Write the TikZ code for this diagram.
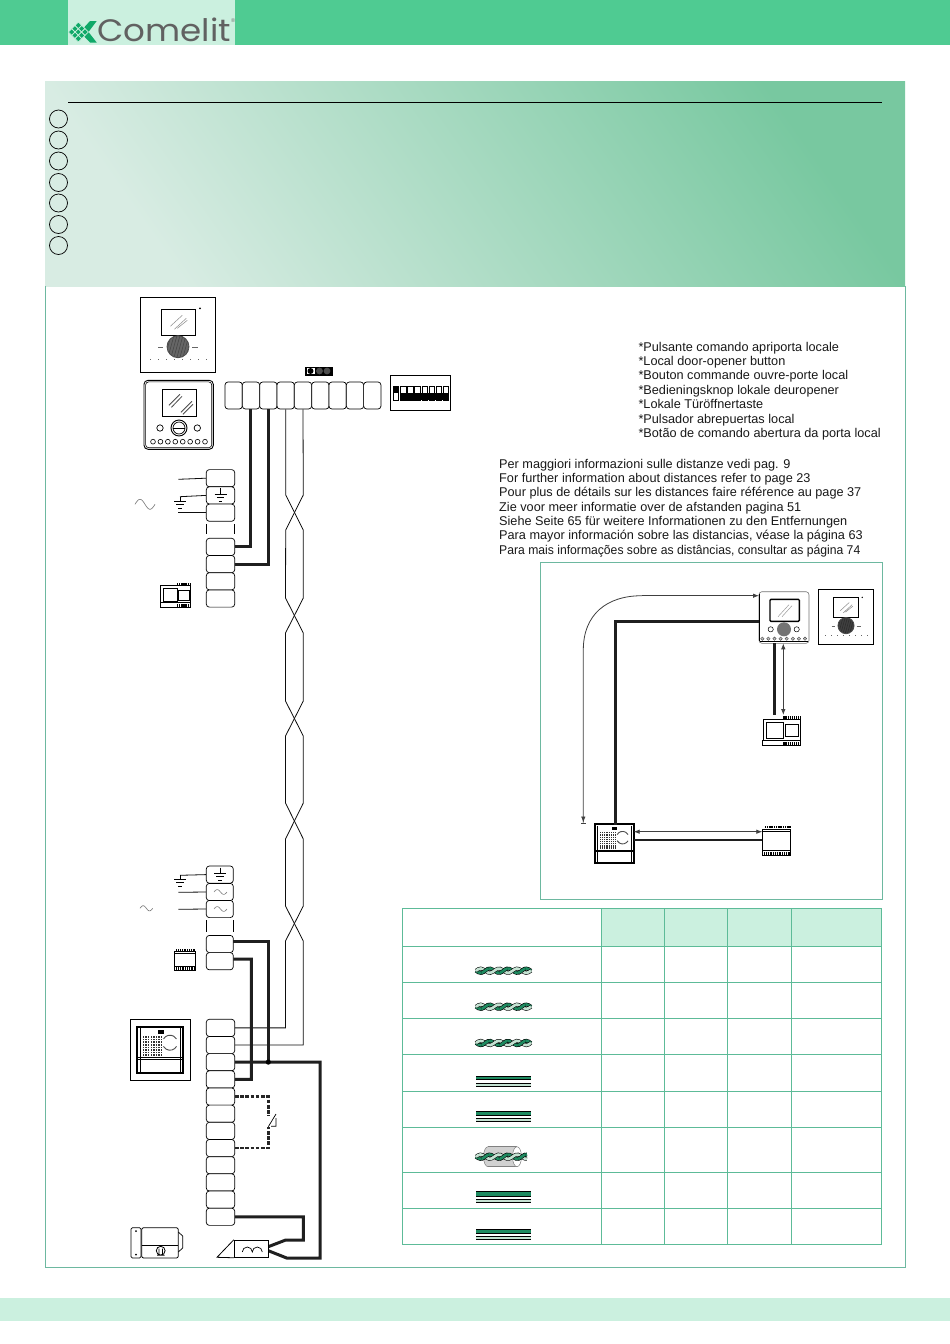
\documentclass[tikz,border=0pt]{standalone}
\usepackage{fontspec}
\setmainfont{Liberation Sans}
\newfontfamily\logofont{Poppins}
\usetikzlibrary{arrows.meta,calc}
\definecolor{hdr}{HTML}{4FCB92}
\definecolor{pale}{HTML}{CBF0DF}
\definecolor{frm}{HTML}{6DB8A0}
\definecolor{grd}{HTML}{5DBB98}
\definecolor{logog}{HTML}{0FA968}
\definecolor{cabd}{HTML}{1E8A60}
\definecolor{cabl}{HTML}{C4E2D2}
\definecolor{gradl}{HTML}{D8ECE3}
\definecolor{gradr}{HTML}{78C8A0}
\tikzset{
 term/.style={draw=black,line width=.7pt,fill=white,rounded corners=3pt,inner sep=0pt,minimum width=#1,minimum height=17.2pt},
 term/.default=28.4pt,
 tt/.style={term=17.33pt,minimum height=27pt},
 heavy/.style={line width=3pt,draw=black!88,line join=miter},
 heavydash/.style={line width=2.6pt,draw=black!85,dash pattern=on 3.6pt off 1.6pt},
 thin wire/.style={line width=.8pt,draw=black!95},
 ar/.style={line width=.8pt,draw=black!75},
 txt/.style={anchor=base west,inner sep=0pt,font=\fontsize{12.7}{14}\selectfont,text=black!90},
 dev/.style={draw=black,line width=.9pt,fill=white,inner sep=0pt},
 circ/.style={draw=black,line width=.7pt},
}
\newcommand{\wave}[5]{\draw[#5,line width=.6pt] plot[domain=0:360,samples=25] ({#1+#3*\x/360},{#2-#4*sin(\x)});}
\newcommand{\gnd}[3]{\draw[line width=.7pt] (#1-#3,#2)--(#1+#3,#2) (#1-#3*.62,#2+3.5)--(#1+#3*.62,#2+3.5) (#1-#3*.3,#2+7)--(#1+#3*.3,#2+7);}
% white monitor
\newcommand{\monW}[4]{\begin{scope}[shift={(#1,#2)},scale=#3]
 \draw[line width=.9pt,fill=white] (0,0) rectangle (75.4,75.4);
 \draw[line width=.9pt] (21,11.7) rectangle (55,38);
 \draw[black!45,line width=.5pt] (30,29)--(42,18) (34,32)--(46,21) (37,31)--(47,23);
 \begin{scope}\clip (37.7,49.4) circle[radius=11]; \fill[#4] (37.7,49.4) circle[radius=11];
 \foreach \k in {-10,-7,...,11}{\draw[black,opacity=.3,line width=.6pt] (37.7+\k-3,60)--(37.7+\k+3,38);}\end{scope}
 \draw[black!70,line width=.8pt] (37.7,49.4) circle[radius=11];
 \fill (59.7,11) circle[radius=1];
 \draw[black!60,line width=.5pt] (18,50)--(23,50) (52,50)--(58,50);
 \foreach \k in {0,...,7}{\fill[black!60] (9.7+\k*8,61.5) rectangle ++(1.3,1.3);}
\end{scope}}
% framed monitor
\newcommand{\monB}[2]{\begin{scope}[shift={(#1,#2)}]
 \draw[line width=.9pt,rounded corners=4pt,fill=white] (0,0) rectangle (69.3,69);
 \draw[line width=.6pt,rounded corners=3pt] (1.6,1.6) rectangle (67.7,67.4);
 \draw[line width=.9pt] (18,9) rectangle (52,35.7);
 \draw[black!70,line width=.8pt] (25,25)--(36,14) (27.5,27)--(38,16) (37,32)--(48,21) (39,34)--(49,24);
 \draw[line width=.9pt] (35,47.7) circle[radius=8]; \draw[line width=.7pt] (35,47.7) circle[radius=6];
 \draw[line width=1pt] (29,47.7)--(41,47.7);
 \draw[line width=.7pt] (16,47.7) circle[radius=3.2] (53.3,47.7) circle[radius=3.2];
 \foreach \k in {0,...,7}{\draw[line width=.6pt] (9+\k*7.43,61.4) circle[radius=2.4];}
\end{scope}}
% din power unit
\newcommand{\unitA}[4]{\begin{scope}[shift={(#1,#2)},xscale=#3,yscale=#4]
 \draw[line width=.8pt,fill=white] (.5,3.5) rectangle (30.7,20.5);
 \draw[line width=.6pt] (3.3,6) rectangle (17.3,19.3);
 \draw[line width=.9pt] (18.3,7.7) rectangle (29,17.7);
 \draw[line width=.7pt] (0,20.5) rectangle (30.7,25);
 \draw[line width=3pt,dash pattern=on 1.3pt off .8pt] (17,1.7)--(30.7,1.7) (17,23)--(30.7,23);
\end{scope}}
\newcommand{\unitC}[4]{\begin{scope}[shift={(#1,#2)},xscale=#3,yscale=#4]
 \draw[line width=.8pt,fill=white] (0,3.5) rectangle (20.7,21.7);
 \draw[line width=.7pt] (0,18) -- (20.7,18);
 \draw[line width=2.4pt,dash pattern=on 1.1pt off .7pt] (2,2)--(20.7,2) (0,20)--(20.7,20);
 \draw[line width=1pt] (0,5)--(20.7,5);
\end{scope}}
% entry panel
\newcommand{\panel}[3]{\begin{scope}[shift={(#1,#2)},scale=#3]
 \draw[line width=2pt,fill=white] (0,0) rectangle (46,46.6);
 \draw[line width=.6pt] (2.7,1.5)--(2.7,45.5) (43,1.5)--(43,45.5);
 \draw[line width=.6pt] (1,30.6)--(45,30.6) (1,32.2)--(45,32.2);
 \fill (20.4,3) rectangle ++(6,4);
 \foreach \a in {0,...,7}\foreach \b in {0,...,7}{\fill[black!80] (5.4+\a*2.6,9.5+\b*2.6) rectangle ++(1.5,1.5);}
 \draw[black!70,line width=.9pt] (32.7,16) ++(30:7.5) arc[start angle=30,end angle=150,radius=7.5];
 \draw[black!70,line width=.9pt] (32.7,16) ++(210:7.5) arc[start angle=210,end angle=330,radius=7.5];
\end{scope}}
\newcommand{\strandA}[4]{\draw[#4] plot[domain=#1:#2,samples=24] (\x,{#3+2.2*sin((\x-476)/18.3*360)});}
\newcommand{\strandB}[4]{\draw[#4] plot[domain=#1:#2,samples=24] (\x,{#3-2.2*sin((\x-476)/18.3*360)});}
\newcommand{\twist}[3]{%
 \strandA{#1}{#2}{#3}{black,line width=3.8pt}
 \strandA{#1}{#2}{#3}{cabd,line width=2.7pt}
 \strandB{#1}{#2}{#3}{black,line width=3.8pt}
 \strandB{#1}{#2}{#3}{cabl,line width=2.7pt}
 \foreach \k in {1,3,5}{\pgfmathsetmacro{\aa}{476+9.15*\k-3.6}\pgfmathsetmacro{\bb}{476+9.15*\k+3.6}
  \strandA{\aa}{\bb}{#3}{black,line width=3.8pt}
  \strandA{\aa}{\bb}{#3}{cabd,line width=2.7pt}}}
\newcommand{\bands}[4]{%
 \fill[cabd] (476,#1) rectangle (531,#2); \draw[line width=.6pt] (476,#1)--(531,#1) (476,#2)--(531,#2);
 \fill[cabl] (476,#3) rectangle (531,#4); \draw[line width=.6pt] (476,#3)--(531,#3) (476,#4)--(531,#4);}
\begin{document}
\begin{tikzpicture}[x=1pt,y=-1pt]
\useasboundingbox (0,0) rectangle (950,1344);
\fill[white] (0,0) rectangle (950,1344);
% header and footer
\fill[hdr] (0,0) rectangle (950,45);
\fill[pale] (68,0) rectangle (235,45);
\fill[pale] (0,1298) rectangle (950,1321);
\begin{scope}
 \fill[logog] (90,21)--(96.7,21)--(88.5,32)--(96.7,42.5)--(90,42.5)--(80,32)--cycle;
 \foreach \u in {0,1,2}\foreach \v in {0,1,2}{
  \filldraw[fill=logog,draw=pale,line width=.7pt] ({68.5+(\u+\v)*3.3},{32+(\u-\v)*3.3}) -- ++(3.3,-3.3) -- ++(3.3,3.3) -- ++(-3.3,3.3) -- cycle;}
 \node[anchor=base west,inner sep=0pt,text=black!62] (logo) at (97,41.5) {\logofont\fontsize{31}{31}\selectfont\scalebox{1.1}[1]{Comelit}};
 \node[anchor=west,inner sep=0pt,text=black!55] (reg) at (logo.east |- 0,21) {\fontsize{5.5}{5.5}\selectfont ®};
\end{scope}
% top gradient panel
\begin{scope}
 \clip (45,81) rectangle (905,286);
 \shade[left color=gradl,right color=gradr,shading angle=125] (45,81) rectangle (905,286);
\end{scope}
\draw[frm,line width=1pt] (45,286)--(45,1267)--(905,1267)--(905,286);
\draw[line width=.8pt] (68,102.5)--(882,102.5);
\foreach \n/\yy in {1/119,2/140,3/161,4/182.5,5/203,6/224.5,7/245.5}{
 \node[circ,circle,inner sep=0pt,minimum size=18pt] (c\n) at (58.5,\yy) {};}
% top monitors
\monW{140.3}{297.3}{1}{black!60}
\monB{144}{380.3}
% top terminal strip
\foreach \n in {1,...,9}{\node[tt] (T\n) at ({225+17.33*(\n-.5)},395.5) {};}
\draw[fill=black] (305.3,366.7) rectangle (331.7,375.3);
\fill[white] (306.5,367.7) rectangle (314.5,374.3);
\fill (310.5,371) circle[radius=3];
\fill[black!70] (319.5,371) circle[radius=3.4] (327,371) circle[radius=3.4];
% dip
\node[dev,minimum width=60.4pt,minimum height=35pt] (dip) at (420.5,392.8) {};
\draw[line width=.7pt,fill=white] (393.3,386) rectangle (398.7,400);
\fill (393.3,386) rectangle (398.7,393);
\foreach \k in {1,...,7}{\draw[line width=.7pt,fill=white] ({393.3+7.15*\k},386) rectangle ++(5.4,14);}
\fill (400.5,393) rectangle (447.5,400);
% left terminals upper
\foreach \n/\yy in {1/478.2,2/495.4,3/512.7,5/546.9,6/564.1,7/581.3,8/598.5}{\node[term] (A\n) at (220.5,\yy) {};}
\draw[line width=.7pt] (206.5,524)--(206.5,534) (234.5,524)--(234.5,534);
\draw[line width=.7pt] (220.5,488)--(220.5,494); \gnd{220.5}{494}{6}
\coordinate (w1) at (178.3,479.3); \coordinate (w2) at (180,496.7); \coordinate (w3) at (178.3,512.7);
\draw[thin wire] (w1)--(A1.west); \draw[thin wire] (w2)--(A2.west); \draw[thin wire] (w3)--(A3.west);
\draw[line width=.7pt] (180,496.7)--(180,501); \gnd{180}{501}{6}
\wave{135}{504.3}{20}{5}{black!55}
\unitA{160}{582.3}{1}{1}
% wiring upper
\draw[heavy] (T2.south) |- (A5.east);
\draw[heavy] (T3.south) |- (A6.east);
% lower terminals
\foreach \n/\yy in {1/874.6,2/892,3/909,4/944,5/961.2}{\node[term=27pt] (C\n) at (219.8,\yy) {};}
\foreach \n in {1,...,12}{\node[term] (B\n) at (220.5,{1019.3+17.17*(\n-.5)}) {};}
\draw[line width=.7pt] (220,867.5)--(220,873); \gnd{220}{873}{6}
\wave{214}{892}{13}{2.4}{black!50}
\wave{214}{909}{13}{2.4}{black!50}
\draw[line width=.7pt] (206.5,920)--(206.5,932) (233,920)--(233,932);
\coordinate (w4) at (180,875.3); \coordinate (w5) at (178.3,892.3); \coordinate (w6) at (178.3,909.3);
\draw[thin wire] (w4)--(C1.west); \draw[thin wire] (w5)--(C2.west); \draw[thin wire] (w6)--(C3.west);
\draw[line width=.7pt] (180,875.3)--(180,879); \gnd{180}{879}{6}
\wave{140}{908.3}{12.7}{2.6}{black!55}
\unitC{174.3}{948.3}{1}{1}
% twisted pair
\coordinate (x3) at (303.3,941);
\coordinate (x4) at (285.5,941);
\draw[thin wire] (T4.south)--(285.7,495)--(303.3,530)--(303.3,598)--(285.5,633)--(285.5,701)--(303.3,736)--(303.3,803)--(285.5,839)--(285.5,906)--(x3) |- (B2.east);
\draw[thin wire] (T5.south)--(303.3,495)--(285.7,530)--(285.5,598)--(303.3,633)--(303.3,701)--(285.5,736)--(285.5,803)--(303.3,839)--(303.3,906)--(x4) |- (B1.east);
% heavy lower wiring
\coordinate (c4p) at (233.3,941); \coordinate (c5p) at (233.3,959);
\coordinate (j) at (268.3,1062.1);
\coordinate (rl1) at (268.3,1250.7); \coordinate (rl2) at (268.3,1246.7);
\coordinate (bend1) at (320,1258); \coordinate (bend2) at (303.3,1240);
\draw[heavy] (c4p)-|(j);
\draw[heavy] (c5p)-|(251.3,1079.3)--(B4.east);
\draw[heavy] (B3.east)-|(bend1)--(286.7,1258)--(rl1);
\draw[heavy] (B12.east)-|(bend2)--(285.7,1240)--(rl2);
\fill[black] (j) circle[radius=2.6];
% switch
\coordinate (s1) at (268.3,1116); \coordinate (s2) at (268.3,1126.7);
\draw[heavydash] (B5.east)-|(s1);
\draw[heavydash] (B8.east)-|(s2);
\draw[line width=.7pt] (s2)--(276,1114) (271,1126.3)--(276,1126.3)--(276,1118);
% relay
\node[dev,line width=.8pt,minimum width=34pt,minimum height=17.3pt] (relay) at (251.3,1248.7) {};
\draw[line width=.8pt] (relay.north west)--(217,1257.3)--(relay.south west);
\draw[line width=.7pt] (242.3,1252) arc[start angle=180,end angle=360,radius=5] arc[start angle=180,end angle=360,radius=5];
% lock
\draw[line width=.7pt,rounded corners=1.5pt,fill=white] (131,1227.7) rectangle (141,1258);
\fill (136,1231) circle[radius=1] (136,1254.5) circle[radius=1];
\draw[line width=.8pt,rounded corners=2pt,fill=white] (141.7,1227.7) rectangle (178.3,1258);
\draw[line width=.7pt] (178.3,1232)--(182.7,1236)--(182.7,1248)--(178.3,1252);
\draw[line width=.7pt] (141.7,1245)--(178.3,1245);
\draw[line width=.8pt] (160.7,1250.7) circle[radius=4.4] (159,1248.5)--(159,1254) (162.4,1248.5)--(162.4,1254) (157,1255.3)--(164.5,1255.3);
% door panel left
\draw[line width=.9pt,fill=white] (130,1019.3) rectangle (190.7,1080);
\panel{137.3}{1026.7}{1}
% texts right
\foreach \n/\yy/\s in {1/351/{*Pulsante comando apriporta locale},2/365.3/{*Local door-opener button},3/379.6/{*Bouton commande ouvre-porte local},4/394.2/{*Bedieningsknop lokale deuropener},5/408.5/{*Lokale Türöffnertaste},6/423.1/{*Pulsador abrepuertas local},7/437.5/{*Botão de comando abertura da porta local}}{
 \node[txt] (p\n) at (638.3,\yy) {\s};}
\foreach \n/\yy/\s in {1/468.2/{Per maggiori informazioni sulle distanze vedi pag. 9},2/482.5/{For further information about distances refer to page 23},3/496.6/{Pour plus de détails sur les distances faire référence au page 37},4/511.2/{Zie voor meer informatie over de afstanden pagina 51},5/525.5/{Siehe Seite 65 für weitere Informationen zu den Entfernungen},6/539.9/{Para mayor información sobre las distancias, véase la página 63}}{
 \node[txt] (q\n) at (499,\yy) {\s};}
\node[txt] (q7) at (499,554.2) {\scalebox{.958}[1]{Para mais informações sobre as distâncias, consultar as página 74}};
% schematic frame
\draw[frm,line width=1pt] (540.7,562.7) rectangle (882,899.3);
% small framed monitor
\begin{scope}[shift={(759,591.7)}]
 \draw[black!55,line width=.6pt,rounded corners=3pt,fill=white] (0,0) rectangle (50,51.6);
 \draw[line width=.8pt] (.6,2)--(.6,49) (.6,50)--(49.4,50);
 \draw[line width=1.4pt,rounded corners=1pt] (11,7.6) rectangle (40.3,29.6);
 \draw[black!40,line width=.5pt] (19,25)--(30,13) (23,25)--(33,14);
 \fill[black!55] (25,37.6) circle[radius=7];
 \draw[line width=.5pt] (11.7,37.6) circle[radius=2.6] (37.7,37.6) circle[radius=2.6];
 \foreach \k in {0,...,7}{\filldraw[fill=black!25,draw=black!70,line width=.4pt] (3.3+\k*6.1,47) circle[radius=1.7];}
\end{scope}
\monW{818.3}{589.3}{.735}{black!75}
\node[inner sep=0pt,minimum width=50pt,minimum height=51.6pt] (mon) at (784,617.5) {};
\unitA{762.3}{715}{1.24}{1.23}
\node[inner sep=0pt,minimum width=38pt,minimum height=30.7pt] (pu) at (781.3,730.4) {};
\panel{595.3}{824.3}{.835}
\node[inner sep=0pt,minimum width=38.4pt,minimum height=39.4pt] (pan) at (614.5,844) {};
\unitC{762.3}{824.3}{1.37}{1.45}
\node[inner sep=0pt,minimum width=28.4pt,minimum height=31.4pt] (tr) at (776.5,840) {};
% schematic connectors
\coordinate (m1) at (759,595.7); \coordinate (m2) at (759,621); \coordinate (m3) at (774,643.3); \coordinate (m4) at (783.3,643.3);
\coordinate (u3) at (774,715); \coordinate (u4) at (783.3,715);
\coordinate (pn1) at (615,825); \coordinate (e1) at (583.3,823.3);
\coordinate (pn2) at (633.7,831.7); \coordinate (pn3) at (633.7,840); \coordinate (t2) at (762.3,831.7); \coordinate (t3) at (762.3,840);
\draw[ar,-{Latex[length=6pt,width=4.5pt]}] (642,595.7) -- (m1);
\draw[ar,-{Latex[length=6pt,width=4.5pt]Bar[width=5pt]}] (642,595.7) .. controls (606,595.7) and (583.3,615) .. (583.3,650) -- (e1);
\draw[heavy] (m2)-|(pn1);
\draw[heavy] (m3)--(u3);
\draw[ar,{Latex[length=6pt,width=4.5pt]}-{Latex[length=6pt,width=4.5pt]}] (m4)--(u4);
\draw[ar,{Latex[length=6pt,width=4.5pt]}-{Latex[length=6pt,width=4.5pt]}] (pn2)--(t2);
\draw[line width=2pt,draw=black!88] (pn3)--(t3);
% table
\fill[pale] (601.3,908.7) rectangle (881.7,946.3);
\foreach \yy in {908.7,946.3,982.3,1018.3,1054.3,1091.3,1127,1172.3,1208.3,1244.3}{\draw[grd,line width=.9pt] (402.3,\yy)--(881.7,\yy);}
\foreach \xx in {402.3,601.3,664.3,727.3,791.3,881.7}{\draw[grd,line width=.9pt] (\xx,908.7)--(\xx,1244.3);}
\twist{476}{531}{970.7}
\twist{476}{531}{1006.7}
\twist{476}{531}{1043}
\bands{1076.5}{1079.5}{1083}{1086.7}
\bands{1111}{1115}{1118.3}{1121.7}
\bands{1191.7}{1196}{1199}{1202.7}
\bands{1229}{1233}{1236}{1239.3}
% shielded cable
\filldraw[fill=black!18,draw=black!50,line width=.5pt] (488,1156.7) ellipse[x radius=4.5,y radius=10];
\fill[black!18] (488,1146.7) rectangle (517,1166.7);
\draw[black!50,line width=.5pt] (488,1146.7)--(517,1146.7) (488,1166.7)--(517,1166.7);
\filldraw[fill=white,draw=black!50,line width=.5pt] (517,1156.7) ellipse[x radius=4.5,y radius=10];
\twist{476}{527}{1156.7}
\end{tikzpicture}
\end{document}
